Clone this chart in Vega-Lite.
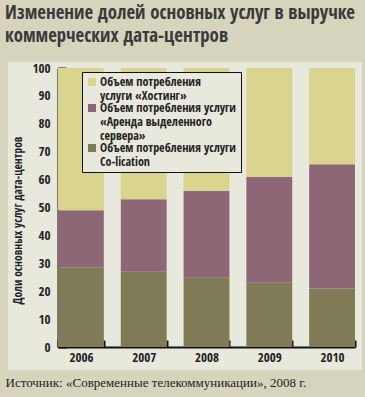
{
  "$schema": "https://vega.github.io/schema/vega-lite/v6.json",
  "width": 354,
  "height": 308,
  "autosize": {"type": "none"},
  "padding": {"left": 8, "top": 62, "right": 3, "bottom": 27},
  "background": "#d6d4bc",
  "view": {"fill": "#e9e8dc", "stroke": null},
  "title": {
    "text": ["Изменение долей основных услуг в выручке", "коммерческих дата-центров"],
    "anchor": "start",
    "frame": "group",
    "font": "Open Sans Condensed, serif",
    "fontSize": 18.8,
    "fontWeight": "bold",
    "color": "#3a3a3a",
    "lineHeight": 23,
    "offset": 16,
    "dx": -3
  },
  "data": {
    "values": [
      {"year": "2006", "service": "Объем потребления услуги|Co-lication", "ord": 1, "value": 28.5},
      {"year": "2006", "service": "Объем потребления услуги|«Аренда выделенного|сервера»", "ord": 2, "value": 20.5},
      {"year": "2006", "service": "Объем потребления|услуги «Хостинг»", "ord": 3, "value": 51},
      {"year": "2007", "service": "Объем потребления услуги|Co-lication", "ord": 1, "value": 27},
      {"year": "2007", "service": "Объем потребления услуги|«Аренда выделенного|сервера»", "ord": 2, "value": 26},
      {"year": "2007", "service": "Объем потребления|услуги «Хостинг»", "ord": 3, "value": 47},
      {"year": "2008", "service": "Объем потребления услуги|Co-lication", "ord": 1, "value": 25},
      {"year": "2008", "service": "Объем потребления услуги|«Аренда выделенного|сервера»", "ord": 2, "value": 31},
      {"year": "2008", "service": "Объем потребления|услуги «Хостинг»", "ord": 3, "value": 44},
      {"year": "2009", "service": "Объем потребления услуги|Co-lication", "ord": 1, "value": 23},
      {"year": "2009", "service": "Объем потребления услуги|«Аренда выделенного|сервера»", "ord": 2, "value": 38},
      {"year": "2009", "service": "Объем потребления|услуги «Хостинг»", "ord": 3, "value": 39},
      {"year": "2010", "service": "Объем потребления услуги|Co-lication", "ord": 1, "value": 21},
      {"year": "2010", "service": "Объем потребления услуги|«Аренда выделенного|сервера»", "ord": 2, "value": 44.5},
      {"year": "2010", "service": "Объем потребления|услуги «Хостинг»", "ord": 3, "value": 34.5}
    ]
  },
  "mark": {"type": "bar"},
  "encoding": {
    "x": {
      "field": "year",
      "type": "ordinal",
      "scale": {"range": [50, 347], "paddingInner": 0.27, "paddingOuter": 0, "align": 0.69},
      "axis": {
        "orient": "bottom",
        "offset": -23,
        "labelAngle": 0,
        "tickBand": "extent",
        "tickSize": -7,
        "tickWidth": 2,
        "tickColor": "#111111",
        "domainColor": "#111111",
        "domainWidth": 2,
        "labelFont": "Open Sans Condensed, serif",
        "labelFontSize": 13,
        "labelFontWeight": "bold",
        "labelColor": "#222222",
        "labelPadding": 11,
        "title": "Источник: «Современные телекоммуникации», 2008 г.",
        "titleFont": "Liberation Serif, DejaVu Serif, serif",
        "titleFontSize": 13,
        "titleFontWeight": "normal",
        "titleColor": "#222222",
        "titleAlign": "left",
        "titleAnchor": "start",
        "titleBaseline": "alphabetic",
        "titleX": -3,
        "titleY": 39
      }
    },
    "y": {
      "field": "value",
      "type": "quantitative",
      "stack": "zero",
      "scale": {"domain": [0, 100], "range": [285, 6], "nice": false, "zero": true},
      "axis": {
        "offset": -50,
        "values": [0, 10, 20, 30, 40, 50, 60, 70, 80, 90, 100],
        "grid": false,
        "tickSize": -8,
        "tickWidth": 2,
        "tickColor": "#111111",
        "domainColor": "#111111",
        "domainWidth": 2,
        "labelFont": "Open Sans Condensed, serif",
        "labelFontSize": 13,
        "labelFontWeight": "bold",
        "labelColor": "#222222",
        "labelPadding": 16,
        "title": "Доли основных услуг дата-центров",
        "titleFont": "Open Sans Condensed, serif",
        "titleFontSize": 11.5,
        "titleFontWeight": "bold",
        "titleColor": "#222222",
        "titlePadding": 8,
        "titleY": 158
      }
    },
    "color": {
      "field": "service",
      "type": "nominal",
      "scale": {
        "domain": ["Объем потребления|услуги «Хостинг»", "Объем потребления услуги|«Аренда выделенного|сервера»", "Объем потребления услуги|Co-lication"],
        "range": ["#d9d58f", "#8d6775", "#7f7b57"]
      },
      "legend": {
        "title": null,
        "orient": "none",
        "legendX": 74,
        "legendY": 10,
        "labelExpr": "split(datum.label, '|')",
        "fillColor": "#e9e8dc",
        "strokeColor": "#111111",
        "padding": 4,
        "symbolType": "square",
        "symbolSize": 64,
        "symbolStrokeWidth": 0,
        "labelFont": "Open Sans Condensed, serif",
        "labelFontSize": 12,
        "labelFontWeight": "bold",
        "labelColor": "#222222",
        "labelLimit": 220,
        "labelOffset": 2,
        "rowPadding": 0
      }
    },
    "order": {"field": "ord", "type": "quantitative"}
  }
}
